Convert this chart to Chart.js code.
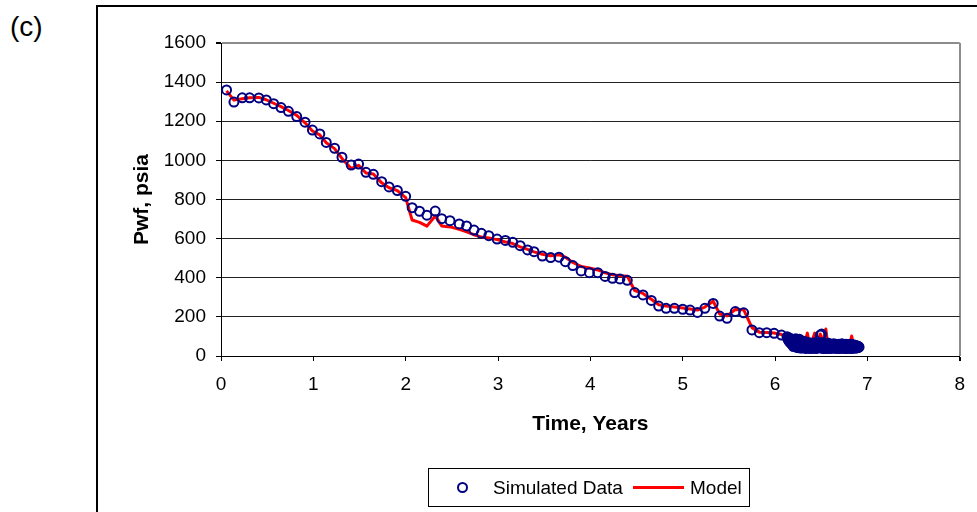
<!DOCTYPE html>
<html>
<head>
<meta charset="utf-8">
<script src="https://cdn.jsdelivr.net/npm/chart.js@4.4.0/dist/chart.umd.min.js"></script>
<style>
  html, body { margin:0; padding:0; background:#fff; overflow:hidden; }
  #wrap { position:relative; width:977px; height:512px; }
  #frame { position:absolute; left:96px; top:5px; width:1000px; height:600px; border:2px solid #000; box-sizing:border-box; }
  #label { position:absolute; left:10px; top:11px; font:28px "Liberation Sans", Arial, sans-serif; color:#000; }
  #legend { position:absolute; left:428px; top:468px; width:322px; height:39px; border:1px solid #000; box-sizing:border-box;
            font:19px "Liberation Sans", Arial, sans-serif; color:#000; }
  #legend .mk { position:absolute; left:28px; top:13px; width:11px; height:11px; border:2px solid #000080; border-radius:50%; box-sizing:border-box; }
  #legend .t1 { position:absolute; left:64px; top:8px; line-height:22px; }
  #legend .ln { position:absolute; left:204px; top:17px; width:51px; height:3px; background:#ff0000; }
  #legend .t2 { position:absolute; left:261px; top:8px; line-height:22px; }
  canvas { position:absolute; left:0; top:0; }
</style>
</head>
<body>
<div id="wrap">
  <div id="frame"></div>
  <div id="label">(c)</div>
  <canvas id="c" width="977" height="512"></canvas>
  <div id="legend"><div class="mk"></div><span class="t1">Simulated Data</span><div class="ln"></div><span class="t2">Model</span></div>
</div>
<script>
// ---- data ----
const simTime = [0.06,0.14,0.23,0.31,0.41,0.49,0.57,0.65,0.73,0.82,0.91,0.99,1.07,1.14,1.23,1.31,1.41,1.49,1.57,1.65,1.74,1.82,1.91,2.00,
  2.07,2.15,2.23,2.32,2.39,2.48,2.58,2.66,2.74,2.82,2.90,2.99,3.08,3.16,3.24,3.32,3.39,3.48,3.57,3.66,3.73,3.81,3.90,3.99,4.08,4.16,
  4.24,4.32,4.40,4.48,4.57,4.66,4.74,4.82,4.91,5.00,5.08,5.16,5.24,5.33,5.40,5.48,5.57,5.66,5.75,5.83,5.91,5.99,6.07,
  6.130,6.135,6.140,6.145,6.150,6.155,6.160,6.165,6.170,6.175,
  6.180,6.185,6.190,6.195,6.200,6.205,6.210,6.215,6.220,6.225,
  6.230,6.235,6.240,6.245,6.250,6.255,6.260,6.265,6.270,6.275,
  6.280,6.285,6.290,6.295,6.300,6.305,6.310,6.315,6.320,6.325,
  6.330,6.335,6.340,6.345,6.350,6.355,6.360,6.365,6.370,6.375,
  6.380,6.385,6.390,6.395,6.400,6.405,6.410,6.415,6.420,6.425,
  6.430,6.435,6.440,6.445,6.450,6.455,6.460,6.465,6.470,6.475,
  6.480,6.485,6.490,6.495,6.500,6.505,6.510,6.515,6.520,6.525,
  6.530,6.535,6.540,6.545,6.550,6.555,6.560,6.565,6.570,6.575,
  6.580,6.585,6.590,6.595,6.600,6.605,6.610,6.615,6.620,6.625,
  6.630,6.635,6.640,6.645,6.650,6.655,6.660,6.665,6.670,6.675,
  6.680,6.685,6.690,6.695,6.700,6.705,6.710,6.715,6.720,6.725,
  6.730,6.735,6.740,6.745,6.750,6.755,6.760,6.765,6.770,6.775,
  6.780,6.785,6.790,6.795,6.800,6.805,6.810,6.815,6.820,6.825,
  6.830,6.835,6.840,6.845,6.850,6.855,6.860,6.865,6.870,6.875,
  6.880,6.885,6.890,6.895,6.900,6.905,6.910];
const simPwf = [1360,1298,1320,1320,1319,1309,1290,1270,1251,1224,1195,1155,1135,1092,1062,1016,976,981,939,929,891,864,846,816,
  758,740,720,741,702,692,675,665,644,627,615,598,591,581,564,542,533,511,503,505,482,462,435,426,426,407,
  397,394,387,324,312,284,255,244,244,239,235,223,244,269,204,193,227,221,133,119,119,116,107,
  98,92,85,95,78,88,70,90,82,65,
  86,58,80,72,48,84,62,76,52,88,
  68,44,80,60,74,42,70,85,50,66,
  78,40,62,72,48,68,58,42,74,56,
  64,38,70,52,60,44,68,55,40,62,
  50,66,38,58,64,44,60,52,40,68,
  48,62,56,38,66,50,58,42,64,52,
  44,60,107,54,40,112,58,46,62,38,
  56,64,44,52,60,38,58,50,66,42,
  54,46,62,38,56,60,44,52,40,58,
  50,62,42,56,46,60,38,54,58,44,
  52,40,60,48,56,38,58,50,44,62,
  42,54,48,58,38,56,50,44,60,40,
  52,58,38,48,56,44,54,60,40,50,
  56,38,52,48,58,42,50,44,54,40,
  48,52,42,50,44,48,45];

const modelTime = [0.06,0.14,0.23,0.31,0.41,0.49,0.57,0.65,0.73,0.82,0.91,0.99,1.07,1.14,1.23,1.31,1.41,1.49,1.57,1.65,1.74,1.82,1.91,2.00,
  2.07,2.15,2.23,2.32,2.39,2.48,2.58,2.66,2.74,2.82,2.90,2.99,3.08,3.16,3.24,3.32,3.39,3.48,3.57,3.66,3.73,3.81,3.90,3.99,4.08,4.16,
  4.24,4.32,4.40,4.48,4.57,4.66,4.74,4.82,4.91,5.00,5.08,5.16,5.24,5.33,5.40,5.48,5.57,5.66,5.75,5.83,5.91,5.99,6.07,
  6.15,6.17,6.19,6.21,6.23,6.25,6.27,6.29,6.31,6.33,6.35,6.37,6.39,6.41,6.43,6.45,6.47,6.49,6.51,6.53,6.55,6.57,6.59,6.61,6.63,
  6.65,6.67,6.69,6.71,6.73,6.75,6.77,6.79,6.81,6.83,6.85,6.87,6.89,6.91];
const modelPwf = [1355,1308,1315,1320,1322,1310,1292,1275,1255,1230,1192,1150,1130,1090,1060,1010,958,975,935,930,885,860,845,810,
  695,683,664,716,665,660,648,635,620,608,603,595,583,575,558,545,532,520,512,518,505,478,458,450,440,425,
  415,410,408,335,320,290,262,255,250,245,240,235,250,280,215,205,238,237,145,122,120,118,110,
  90,85,78,72,95,60,75,68,62,80,117,66,60,90,117,58,64,112,70,100,138,62,56,60,54,
  58,52,56,50,55,52,58,54,62,102,56,52,48,46];

const xTicks = [0,1,2,3,4,5,6,7,8];
const yTicks = [0,200,400,600,800,1000,1200,1400,1600];

const simPoints = simTime.map((t,i)=>({x:t,y:simPwf[i]}));
const modelPoints = modelTime.map((t,i)=>({x:t,y:modelPwf[i]}));

const FONT = '"Liberation Sans", Arial, sans-serif';

new Chart(document.getElementById('c'), {
  type: 'scatter',
  data: {
    datasets: [
      { label:'Simulated Data', data: simPoints, showLine:false, pointStyle:'circle',
        pointRadius:4.5, pointBorderWidth:2, borderColor:'#000080', backgroundColor:'rgba(0,0,0,0)',
        pointBorderColor:'#000080', pointBackgroundColor:'rgba(0,0,0,0)' },
      { label:'Model', data: modelPoints, showLine:true, pointRadius:0, borderColor:'#ff0000',
        backgroundColor:'#ff0000', borderWidth:3, tension:0, borderJoinStyle:'round' }
    ]
  },
  options: {
    responsive:false, animation:false, devicePixelRatio:1,
    layout: { padding: { left:97, top:43, right:16, bottom:56 } },
    plugins: { legend:{display:false}, tooltip:{enabled:false} },
    scales: {
      x: {
        type:'linear', min:0, max:8,
        afterBuildTicks: s => { s.ticks = xTicks.map(v=>({value:v})); },
        afterFit: s => { s.height = 100; },
        ticks: { font:{family:FONT, size:19}, color:'#000', padding:12, maxRotation:0, callback: v => String(v) },
        grid: { color: c => (c.tick && c.tick.value === 8) ? '#8c8c8c' : 'rgba(0,0,0,0)', lineWidth: c => (c.tick && c.tick.value===8)?2:1,
                tickColor:'#000', tickLength:5, drawTicks:true },
        border: { color:'#000', width:1 },
        title: { display:true, text:'Time, Years', font:{family:FONT, size:21, weight:'bold'}, color:'#000', padding:{top:0,bottom:19} }
      },
      y: {
        type:'linear', min:0, max:1600,
        afterBuildTicks: s => { s.ticks = yTicks.map(v=>({value:v})); },
        afterFit: s => { s.width = 124; },
        ticks: { font:{family:FONT, size:19}, color:'#000', padding:10, callback: v => String(v) },
        grid: { color: c => {
                  if (!c.tick) return '#000';
                  if (c.tick.value === 1600) return '#8c8c8c';
                  if (c.tick.value === 0) return 'rgba(0,0,0,0)';
                  return '#222'; },
                lineWidth: c => (c.tick && c.tick.value===1600)?2:1,
                tickColor:'#000', tickLength:5, drawTicks:true },
        border: { color:'#000', width:1 },
        title: { display:true, text:'Pwf, psia', font:{family:FONT, size:21, weight:'bold'}, color:'#000', padding:{top:33,bottom:0} }
      }
    }
  }
});
</script>
</body>
</html>
